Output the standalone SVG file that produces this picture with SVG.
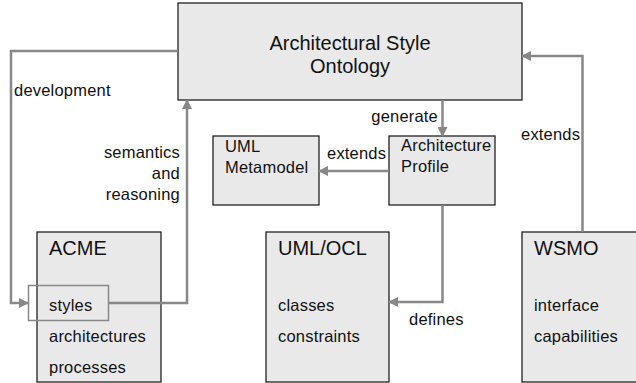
<svg xmlns="http://www.w3.org/2000/svg" width="636" height="383" viewBox="0 0 636 383">
<defs>
<style>
.box{fill:#e9e9e9;stroke:#222;stroke-width:1.3}
.t{font-family:"Liberation Sans",Arial,sans-serif;font-size:16.5px;letter-spacing:0.2px;fill:#111}
.h{font-family:"Liberation Sans",Arial,sans-serif;font-size:20px;fill:#111}
.c{fill:none;stroke:#888;stroke-width:2.5}
</style>
<marker id="ah" markerWidth="10" markerHeight="10" refX="9" refY="5" orient="auto" markerUnits="userSpaceOnUse">
<path d="M0,0 L10,5 L0,10 Z" fill="#888"/>
</marker>
</defs>
<rect width="636" height="383" fill="#fff"/>
<g id="ontology">
<rect class="box" x="178" y="3" width="344" height="97"/>
<text class="h" x="350" y="49.5" text-anchor="middle">Architectural Style</text>
<text class="h" x="350" y="73" text-anchor="middle">Ontology</text>
</g>
<g id="uml-metamodel">
<rect class="box" x="213" y="136" width="106" height="69"/>
<text class="t" x="225" y="152">UML</text>
<text class="t" x="225" y="173">Metamodel</text>
</g>
<g id="architecture-profile">
<rect class="box" x="389" y="136" width="106" height="69"/>
<text class="t" x="401" y="151">Architecture</text>
<text class="t" x="401" y="172">Profile</text>
</g>
<g id="acme">
<rect class="box" x="37" y="232" width="124" height="150"/>
<text class="h" x="49" y="255">ACME</text>
<text class="t" x="49" y="311">styles</text>
<text class="t" x="49" y="342">architectures</text>
<text class="t" x="49" y="373">processes</text>
<rect x="28.5" y="285.5" width="80" height="35" fill="none" stroke="#888" stroke-width="1.5"/>
</g>
<g id="uml-ocl">
<rect class="box" x="266" y="232" width="123" height="150"/>
<text class="h" x="278" y="255">UML/OCL</text>
<text class="t" x="278" y="311">classes</text>
<text class="t" x="278" y="342">constraints</text>
</g>
<g id="wsmo">
<rect class="box" x="522" y="232" width="125" height="150"/>
<text class="h" x="534" y="255">WSMO</text>
<text class="t" x="534" y="311">interface</text>
<text class="t" x="534" y="342">capabilities</text>
</g>
<g id="connectors">
<path class="c" d="M178,51 H11 V303 H28" marker-end="url(#ah)"/>
<path class="c" d="M108,303 H187 V100" marker-end="url(#ah)"/>
<path class="c" d="M442.5,100 V136" marker-end="url(#ah)"/>
<path class="c" d="M389,171 H319" marker-end="url(#ah)"/>
<path class="c" d="M582.5,232 V56 H522" marker-end="url(#ah)"/>
<path class="c" d="M442.5,205 V302 H389" marker-end="url(#ah)"/>
<text class="t" x="14" y="96">development</text>
<text class="t" x="180" y="158" text-anchor="end">semantics</text>
<text class="t" x="180" y="179" text-anchor="end">and</text>
<text class="t" x="180" y="200" text-anchor="end">reasoning</text>
<text class="t" x="438" y="122" text-anchor="end">generate</text>
<text class="t" x="327" y="159">extends</text>
<text class="t" x="521" y="140">extends</text>
<text class="t" x="409" y="325">defines</text>
</g>
</svg>
